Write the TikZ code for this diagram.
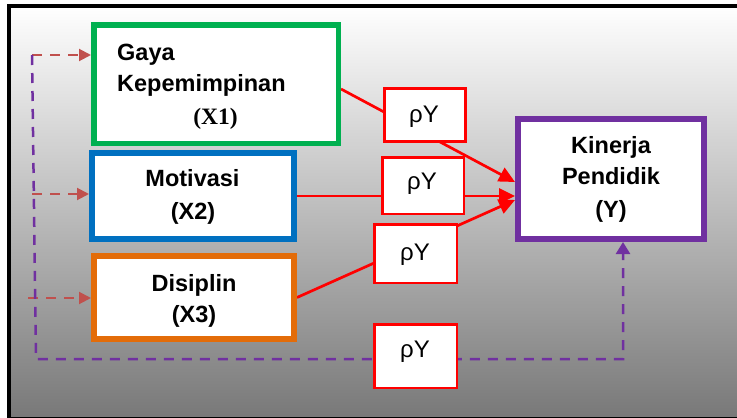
\documentclass[tikz,border=0pt]{standalone}
\usepackage{fontspec}
\setmainfont{Liberation Sans}
\newfontfamily\serifbold{Liberation Serif}
\usetikzlibrary{arrows.meta,calc}
\pgfdeclarelayer{bg}
\pgfdeclarelayer{lines}
\pgfsetlayers{bg,lines,main}
\definecolor{cgreen}{HTML}{00B050}
\definecolor{cblue}{HTML}{0070C0}
\definecolor{corange}{HTML}{E36C09}
\definecolor{cpurple}{HTML}{7030A0}
\definecolor{cbrown}{HTML}{C0504D}
\definecolor{cred}{HTML}{FF0000}
\begin{document}
\begin{tikzpicture}[x=1pt,y=-1pt,
  box/.style={draw,fill=white,inner sep=0pt},
  pbox/.style={draw=cred,fill=white,line width=2.5pt,inner sep=0pt},
  txt/.style={inner sep=0pt,font=\fontsize{23.5}{28}\selectfont\bfseries},
  rtxt/.style={inner sep=0pt,font=\fontsize{24}{28}\selectfont},
  stxt/.style={inner sep=0pt,font=\serifbold\bfseries\fontsize{23.5}{28}\selectfont},
  redline/.style={draw=cred,line width=2.7pt,-{Triangle[length=16pt,width=15pt]}},
  brownarrow/.style={draw=cbrown,line width=2pt,dash pattern=on 10pt off 8pt,-{Triangle[length=12pt,width=12pt]}},
  purpledash/.style={draw=cpurple,line width=2.5pt,dash pattern=on 10pt off 8pt,-{Triangle[length=12pt,width=14pt]}}]
\useasboundingbox (0,0) rectangle (737,418);
\begin{pgfonlayer}{bg}
\fill[white] (0,0) rectangle (737,418);
\shade[top color=white,bottom color=black!53] (9,6) rectangle (760,419);
\draw[line width=4pt] (9,6) rectangle (760,419);
\end{pgfonlayer}
% boxes
\node[box,draw=cgreen,line width=5.5pt,minimum width=244.5pt,minimum height=118.5pt] (x1) at (216,84) {};
\node[box,draw=cblue,line width=6pt,minimum width=202pt,minimum height=86pt] (x2) at (193,196) {};
\node[box,draw=corange,line width=6pt,minimum width=200pt,minimum height=83pt] (x3) at (194,297.5) {};
\node[box,draw=cpurple,line width=6pt,minimum width=186pt,minimum height=120pt] (ky) at (611,179) {};
\node[pbox,minimum width=81pt,minimum height=53pt] (p1) at (425,115) {};
\node[pbox,minimum width=81.5pt,minimum height=56.5pt] (p2) at (423,185.5) {};
\node[pbox,minimum width=82.5pt,minimum height=58.5pt] (p3) at (415.5,253.5) {};
\node[pbox,minimum width=82.5pt,minimum height=63.5pt] (p4) at (415.5,356) {};
% texts
\node[txt,anchor=base west] (t1a) at (117,60) {Gaya};
\node[txt,anchor=base west] (t1b) at (117,91) {Kepemimpinan};
\node[stxt,anchor=base] (t1c) at (215.5,124) {(X1)};
\node[txt,anchor=base] (t2a) at (192.5,186.5) {Motivasi};
\node[txt,anchor=base] (t2b) at (193,219) {(X2)};
\node[txt,anchor=base] (t3a) at (194,291) {Disiplin};
\node[txt,anchor=base] (t3b) at (194,322) {(X3)};
\node[txt,anchor=base] (tya) at (611,153) {Kinerja};
\node[txt,anchor=base] (tyb) at (611,184) {Pendidik};
\node[txt,anchor=base] (tyc) at (611,217) {(Y)};
\node[rtxt,anchor=base] (r1) at (424,122) {ρY};
\node[rtxt,anchor=base] (r2) at (422,189) {ρY};
\node[rtxt,anchor=base] (r3) at (415,260) {ρY};
\node[rtxt,anchor=base] (r4) at (415,357) {ρY};
% connectors
\coordinate (b1) at (32,55);
\coordinate (b2) at (32,194);
\coordinate (b3) at (28,298);
\coordinate (q1) at (32,55);
\coordinate (q2) at (36,359);
\coordinate (q3) at (623,359);
\begin{pgfonlayer}{lines}
\draw[redline] ($(x1.east)+(0,5)$) -- ($(ky.west)+(0,3)$);
\draw[redline] (x2.east) -- (x2.east -| ky.west);
\draw[redline] (x3.east) -- ($(ky.west)+(0,21)$);
\draw[brownarrow] (b1) -- (b1 -| x1.west);
\draw[brownarrow] (b2) -- (b2 -| x2.west);
\draw[brownarrow] (b3) -- (b3 -| x3.west);
\draw[purpledash] (q1) -- (q2) -- (q3) -- (q3 |- ky.south);
\end{pgfonlayer}
\end{tikzpicture}
\end{document}
